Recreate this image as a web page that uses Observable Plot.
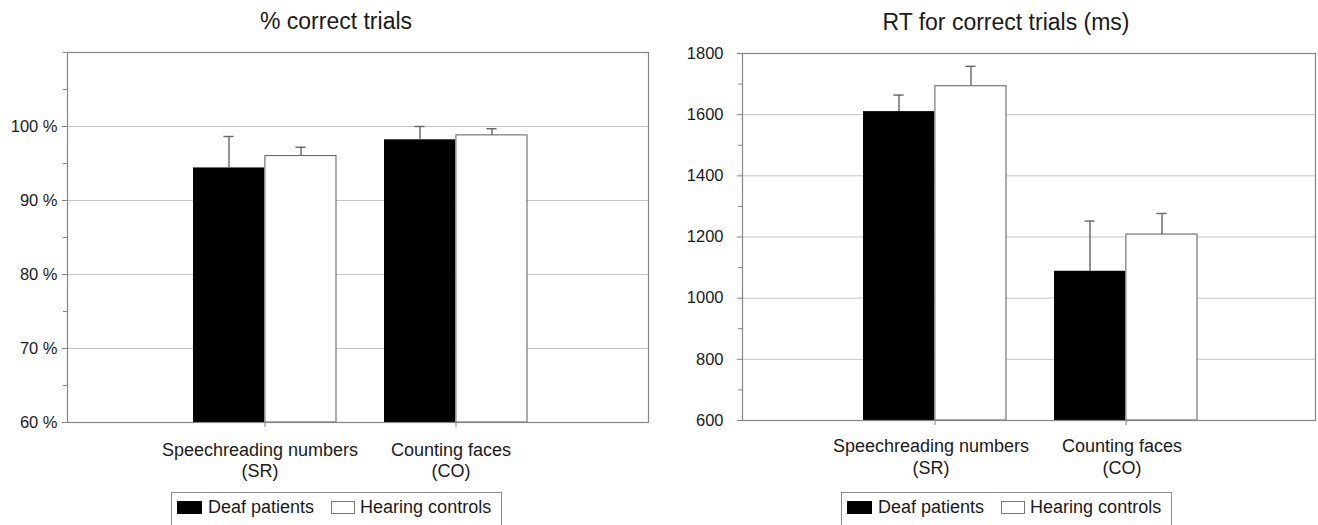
<!DOCTYPE html>
<html>
<head>
<meta charset="utf-8">
<script src="https://cdn.jsdelivr.net/npm/d3@7"></script>
<script src="https://cdn.jsdelivr.net/npm/@observablehq/plot@0.6"></script>
<style>
  html, body { margin: 0; padding: 0; background: #fff; }
  body { width: 1318px; height: 525px; position: relative; overflow: hidden;
         font-family: "Liberation Sans", Arial, sans-serif; color: #1a1a1a; }
  .title { position: absolute; font-size: 23px; line-height: 23px; white-space: nowrap;
           transform: translateX(-50%); color: #1a1a1a; }
  .chart { position: absolute; top: 40px; }
  .legend { position: absolute; top: 492px; border: 1px solid #8a8a8a;
            box-sizing: border-box; padding: 5px 0 0 5px; display: flex;
            height: 40px; align-items: flex-start; font-size: 18px; line-height: 18px; }
  .legend .item { display: flex; align-items: center; height: 18px; }
  .legend .sw { width: 25px; height: 13px; box-sizing: border-box; margin-right: 6px; }
</style>
</head>
<body>
<div id="root"></div>
<script>
// ---- data ----
const categories = ["SR", "CO"];
const categoryLabels = ["Speechreading numbers\n(SR)", "Counting faces\n(CO)"];
const groups = ["Deaf patients", "Hearing controls"];
const groupFills = ["#000000", "#ffffff"];

// % correct trials
const accDeaf = [94.4, 98.2];
const accDeafErr = [4.25, 1.8];
const accHearing = [96.0, 98.8];
const accHearingErr = [1.2, 0.9];
const accTicks = [60, 70, 80, 90, 100];
const accMinorTicks = [65, 75, 85, 95, 105, 110];

// RT for correct trials (ms)
const rtDeaf = [1610, 1088];
const rtDeafErr = [54, 164];
const rtHearing = [1693, 1208];
const rtHearingErr = [65, 69];
const rtTicks = [600, 800, 1000, 1200, 1400, 1600, 1800];
const rtMinorTicks = [700, 900, 1100, 1300, 1500, 1700];

function rows(vals, errs) {
  return categories.map((c, i) => ({category: c, value: vals[i], err: errs[i]}));
}

function panel(cfg) {
  const deaf = rows(cfg.deaf, cfg.deafErr);
  const hear = rows(cfg.hear, cfg.hearErr);
  const yMin = cfg.domain[0];
  const errStroke = "#666666";
  return Plot.plot({
    width: cfg.width,
    height: 450,
    marginTop: cfg.marginTop,
    marginBottom: cfg.marginBottom,
    marginLeft: cfg.marginLeft,
    marginRight: cfg.marginRight,
    style: {fontFamily: "Liberation Sans, Arial, sans-serif", fontSize: "16.5px", color: "#1a1a1a", background: "white", overflow: "visible"},
    x: {domain: categories, paddingInner: cfg.paddingInner, paddingOuter: cfg.paddingOuter, align: cfg.align, label: null},
    y: {domain: cfg.domain, label: null},
    marks: [
      Plot.gridY(cfg.ticks, {stroke: "#c4c4c4", strokeOpacity: 1}),
      Plot.barY(deaf, {x: "category", y1: yMin, y2: "value", fill: groupFills[0], insetRight: 71.9}),
      Plot.barY(hear, {x: "category", y1: yMin, y2: "value", fill: groupFills[1], stroke: "#5a5a5a", strokeWidth: 1, insetLeft: 71.9}),
      Plot.ruleX(deaf, {x: "category", y1: "value", y2: d => d.value + d.err, dx: -36, stroke: errStroke, strokeWidth: 1.4}),
      Plot.tickY(deaf, {x: "category", y: d => d.value + d.err, dx: -36, insetLeft: 66.4, insetRight: 66.4, stroke: errStroke, strokeWidth: 1.4}),
      Plot.ruleX(hear, {x: "category", y1: "value", y2: d => d.value + d.err, dx: 36, stroke: errStroke, strokeWidth: 1.4}),
      Plot.tickY(hear, {x: "category", y: d => d.value + d.err, dx: 36, insetLeft: 66.4, insetRight: 66.4, stroke: errStroke, strokeWidth: 1.4}),
      Plot.frame({stroke: "#858585", strokeWidth: 1.2}),
      Plot.axisY(cfg.ticks, {tickSize: 5, tickPadding: cfg.yTickPadding, tickFormat: cfg.yFormat, stroke: "#858585", fontSize: 16.5}),
      Plot.axisY(cfg.minorTicks, {tickSize: 4, tickFormat: () => "", stroke: "#858585"}),
      Plot.axisX({tickSize: 5, tickFormat: () => "", stroke: "#858585"}),
      Plot.axisX({tickSize: 0, tickPadding: cfg.xTickPadding + 5, dx: cfg.xLabelDx, tickFormat: c => categoryLabels[categories.indexOf(c)], fontSize: 18, lineHeight: 1.2})
    ]
  });
}

const root = document.getElementById("root");

function addTitle(text, cx, top) {
  const t = document.createElement("div");
  t.className = "title";
  t.textContent = text;
  t.style.left = cx + "px";
  t.style.top = top + "px";
  root.appendChild(t);
}

function addLegend(left, width, gap2) {
  const lg = document.createElement("div");
  lg.className = "legend";
  lg.style.left = left + "px";
  lg.style.width = width + "px";
  groups.forEach((g, i) => {
    const it = document.createElement("div");
    it.className = "item";
    if (i > 0) it.style.marginLeft = gap2 + "px";
    const sw = document.createElement("div");
    sw.className = "sw";
    sw.style.background = groupFills[i];
    if (i > 0) { sw.style.border = "1px solid #777"; sw.style.width = "24px"; sw.style.marginRight = "5px"; }
    const tx = document.createElement("span");
    tx.textContent = g;
    it.appendChild(sw);
    it.appendChild(tx);
    lg.appendChild(it);
  });
  root.appendChild(lg);
}

// left panel
addTitle("% correct trials", 336, 9.5);
const left = panel({
  width: 660, marginTop: 12, marginBottom: 68, marginLeft: 67, marginRight: 12,
  paddingInner: 0.253, paddingOuter: 0.64, align: 0.51,
  domain: [60, 110],
  deaf: accDeaf, deafErr: accDeafErr, hear: accHearing, hearErr: accHearingErr,
  ticks: accTicks, minorTicks: accMinorTicks,
  yFormat: d => d + " %", yTickPadding: 5, xTickPadding: 13, xLabelDx: -5
});
const lw = document.createElement("div");
lw.className = "chart"; lw.style.left = "0px";
lw.appendChild(left);
root.appendChild(lw);
addLegend(171, 331, 17);

// right panel
addTitle("RT for correct trials (ms)", 1006, 10.5);
const right = panel({
  width: 658, marginTop: 13, marginBottom: 70, marginLeft: 82, marginRight: 3,
  paddingInner: 0.251, paddingOuter: 0.62, align: 0.506,
  domain: [600, 1800],
  deaf: rtDeaf, deafErr: rtDeafErr, hear: rtHearing, hearErr: rtHearingErr,
  ticks: rtTicks, minorTicks: rtMinorTicks,
  yFormat: d => String(d), yTickPadding: 14, xTickPadding: 11.5, xLabelDx: -4
});
const rw = document.createElement("div");
rw.className = "chart"; rw.style.left = "660px";
rw.appendChild(right);
root.appendChild(rw);
addLegend(841, 331, 17);
</script>
</body>
</html>
